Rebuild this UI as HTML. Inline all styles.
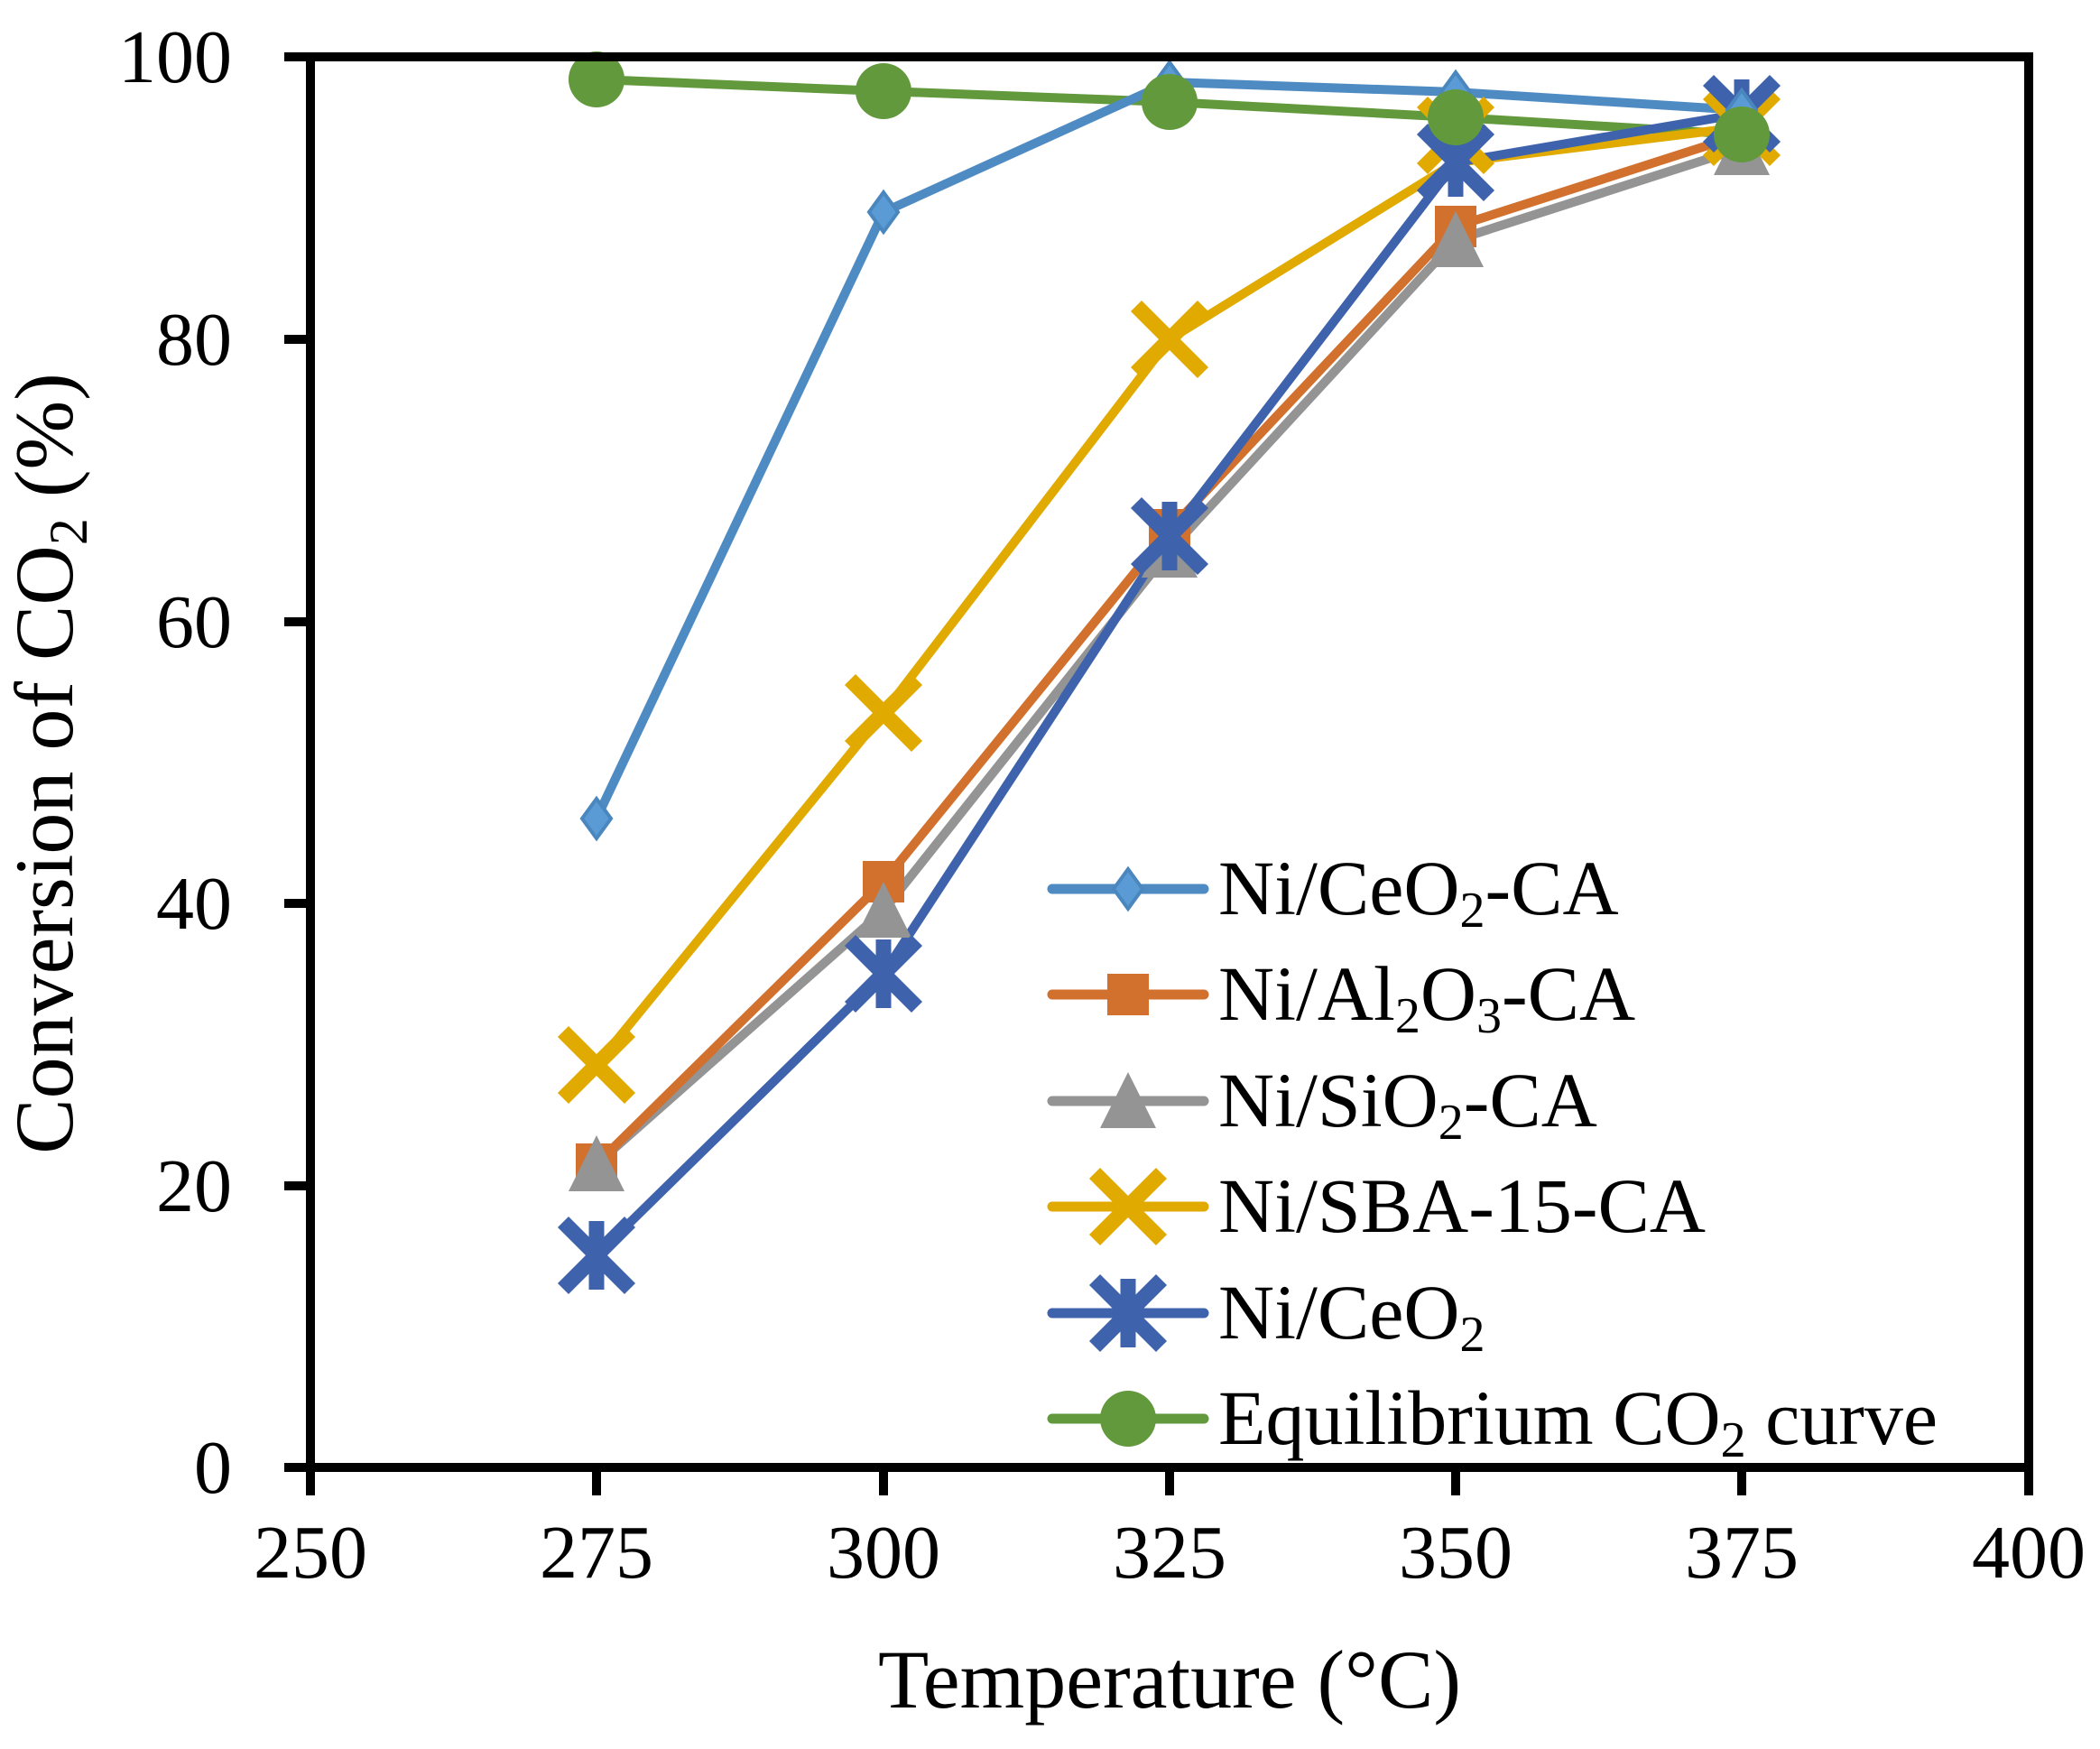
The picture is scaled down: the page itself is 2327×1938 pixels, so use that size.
<!DOCTYPE html>
<html><head><meta charset="utf-8"><style>
html,body{margin:0;padding:0;background:#fff;}
svg{display:block;}
text{font-family:"Liberation Serif",serif;fill:#000;}
</style></head><body>
<svg width="2327" height="1938" viewBox="0 0 2327 1938" xmlns="http://www.w3.org/2000/svg">
<defs>
<g id="dia"><polygon points="0,-22 16,0 0,22 -16,0" fill="#5B9BD5" stroke="#4A87BE" stroke-width="4"/></g>
<g id="sq"><rect x="-23" y="-23" width="46" height="46" fill="#D2702E"/></g>
<g id="tri"><polygon points="0,-32 31,30 -31,30" fill="#949494"/></g>
<g id="xx"><path d="M-37,-37L37,37M-37,37L37,-37" stroke="#E0AA00" stroke-width="17"/></g>
<g id="st"><path d="M-37,-37L37,37M-37,37L37,-37" stroke="#3E63AC" stroke-width="17"/><rect x="-8.5" y="-38" width="17" height="76" fill="#3E63AC"/></g>
<g id="ci"><circle r="31" fill="#63993D"/></g>
</defs>
<g fill="none" stroke-width="10" stroke-linejoin="round" stroke-linecap="round">
<polyline stroke="#63993D" points="661,88 979,101 1296,113 1613,130 1930,149"/>
<polyline stroke="#949494" points="661,1290 979,1009 1296,610 1613,266 1930,164"/>
<polyline stroke="#D2702E" points="661,1290 979,977 1296,587 1613,251 1930,149"/>
<polyline stroke="#E0AA00" points="661,1180 979,790 1296,376 1613,180 1930,141"/>
<polyline stroke="#3E63AC" points="661,1391 979,1079 1296,594 1613,180 1930,126"/>
<polyline stroke="#4F8BC3" points="661,907 979,235 1296,91 1613,102 1930,122"/>
</g>
<use href="#sq" x="661" y="1290"/><use href="#sq" x="979" y="977"/><use href="#sq" x="1296" y="587"/><use href="#sq" x="1613" y="251"/><use href="#sq" x="1930" y="149"/>
<use href="#tri" x="661" y="1290"/><use href="#tri" x="979" y="1009"/><use href="#tri" x="1296" y="610"/><use href="#tri" x="1613" y="266"/><use href="#tri" x="1930" y="164"/>
<use href="#xx" x="661" y="1180"/><use href="#xx" x="979" y="790"/><use href="#xx" x="1296" y="376"/><use href="#xx" x="1613" y="150"/><use href="#xx" x="1930" y="141"/>
<use href="#st" x="661" y="1391"/><use href="#st" x="979" y="1079"/><use href="#st" x="1296" y="594"/><use href="#st" x="1613" y="180"/><use href="#st" x="1930" y="126"/>
<use href="#dia" x="661" y="907"/><use href="#dia" x="979" y="235"/><use href="#dia" x="1296" y="91"/><use href="#dia" x="1613" y="102"/><use href="#dia" x="1930" y="122"/>
<use href="#ci" x="661" y="88"/><use href="#ci" x="979" y="101"/><use href="#ci" x="1296" y="113"/><use href="#ci" x="1613" y="130"/><use href="#ci" x="1930" y="149"/>
<rect x="344" y="63" width="1904" height="1563" fill="none" stroke="#000" stroke-width="10"/>
<g stroke="#000" stroke-width="10">
<line x1="315" y1="63" x2="344" y2="63"/><line x1="315" y1="376" x2="344" y2="376"/><line x1="315" y1="689" x2="344" y2="689"/><line x1="315" y1="1001" x2="344" y2="1001"/><line x1="315" y1="1314" x2="344" y2="1314"/><line x1="315" y1="1626" x2="344" y2="1626"/>
<line x1="344" y1="1626" x2="344" y2="1657"/><line x1="661" y1="1626" x2="661" y2="1657"/><line x1="979" y1="1626" x2="979" y2="1657"/><line x1="1296" y1="1626" x2="1296" y2="1657"/><line x1="1613" y1="1626" x2="1613" y2="1657"/><line x1="1930" y1="1626" x2="1930" y2="1657"/><line x1="2248" y1="1626" x2="2248" y2="1657"/>
</g>
<g font-size="84" text-anchor="end">
<text x="257" y="91">100</text><text x="257" y="404">80</text><text x="257" y="717">60</text><text x="257" y="1029">40</text><text x="257" y="1342">20</text><text x="257" y="1654">0</text>
</g>
<g font-size="84" text-anchor="middle">
<text x="344" y="1748">250</text><text x="661" y="1748">275</text><text x="979" y="1748">300</text><text x="1296" y="1748">325</text><text x="1613" y="1748">350</text><text x="1930" y="1748">375</text><text x="2248" y="1748">400</text>
</g>
<text x="1296" y="1892" font-size="92" text-anchor="middle">Temperature (°C)</text>
<text transform="translate(80,846) rotate(-90)" font-size="92" text-anchor="middle">Conversion of CO<tspan font-size="60" dy="16">2</tspan><tspan dy="-16"> (%)</tspan></text>
<g stroke-width="11" stroke-linecap="round">
<line x1="1166" y1="985" x2="1334" y2="985" stroke="#4F8BC3"/>
<line x1="1166" y1="1102" x2="1334" y2="1102" stroke="#D2702E"/>
<line x1="1166" y1="1220" x2="1334" y2="1220" stroke="#949494"/>
<line x1="1166" y1="1337" x2="1334" y2="1337" stroke="#E0AA00"/>
<line x1="1166" y1="1455" x2="1334" y2="1455" stroke="#3E63AC"/>
<line x1="1166" y1="1572" x2="1334" y2="1572" stroke="#63993D"/>
</g>
<use href="#dia" x="1250" y="985"/><use href="#sq" x="1250" y="1102"/><use href="#tri" x="1250" y="1220"/><use href="#xx" x="1250" y="1337"/><use href="#st" x="1250" y="1455"/><use href="#ci" x="1250" y="1572"/>
<g font-size="86">
<text x="1350" y="1013">Ni/CeO<tspan font-size="56" dy="14">2</tspan><tspan dy="-14">-CA</tspan></text>
<text x="1350" y="1130">Ni/Al<tspan font-size="56" dy="14">2</tspan><tspan dy="-14">O</tspan><tspan font-size="56" dy="14">3</tspan><tspan dy="-14">-CA</tspan></text>
<text x="1350" y="1248">Ni/SiO<tspan font-size="56" dy="14">2</tspan><tspan dy="-14">-CA</tspan></text>
<text x="1350" y="1365">Ni/SBA-15-CA</text>
<text x="1350" y="1483">Ni/CeO<tspan font-size="56" dy="14">2</tspan></text>
<text x="1350" y="1600">Equilibrium CO<tspan font-size="56" dy="14">2</tspan><tspan dy="-14"> curve</tspan></text>
</g>
</svg>
</body></html>
